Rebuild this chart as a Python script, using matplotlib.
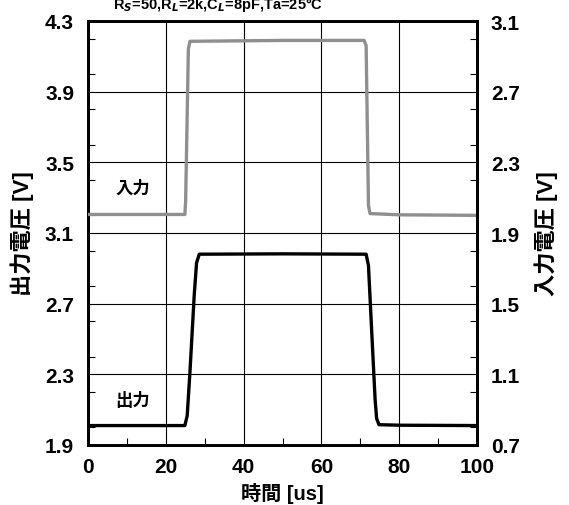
import matplotlib
matplotlib.use("Agg")
import matplotlib.pyplot as plt
from matplotlib.ticker import MultipleLocator

plt.rcParams['font.family'] = ['Liberation Sans', 'Noto Sans CJK JP', 'DejaVu Sans']
plt.rcParams['font.weight'] = 'bold'

# Output voltage (left axis) vs time [us]
t_out = [0, 24.9, 25.5, 26.2, 27.3, 27.9, 28.6, 50, 71.5, 72.1, 72.9, 73.8, 74.2, 74.8, 80, 100]
v_out = [2.01, 2.01, 2.066, 2.31, 2.745, 2.93, 2.98, 2.982, 2.98, 2.915, 2.557, 2.16, 2.05, 2.015, 2.012, 2.01]

# Input voltage (right axis) vs time [us]
t_in = [0, 24.9, 25.1, 25.8, 26.2, 50, 71.0, 71.5, 72.1, 72.5, 80, 99.3]
v_in = [2.005, 2.005, 2.08, 2.94, 2.985, 2.99, 2.99, 2.96, 2.055, 2.01, 2.003, 2.0]

x_ticks = [0, 20, 40, 60, 80, 100]
left_ticks = [1.9, 2.3, 2.7, 3.1, 3.5, 3.9, 4.3]
right_ticks = [0.7, 1.1, 1.5, 1.9, 2.3, 2.7, 3.1]

fig = plt.figure(figsize=(5.69, 5.06), dpi=100)
ax = fig.add_axes([88/569, 1 - 446/506, (477-88)/569, (446-22)/506])
ax2 = ax.twinx()

ax.plot(t_out, v_out, color='black', lw=2.4, solid_joinstyle='round', zorder=5)
ax2.plot(t_in, v_in, color='#8f8f8f', lw=2.4, solid_joinstyle='round', zorder=5)

ax.set_xlim(0, 100)
ax.set_ylim(1.9, 4.3)
ax2.set_ylim(0.7, 3.1)
ax.set_xticks(x_ticks)
ax.set_yticks(left_ticks)
ax2.set_yticks(right_ticks)
ax.set_xticklabels([str(v) for v in x_ticks])
ax.set_yticklabels([f"{v:.1f}" for v in left_ticks])
ax2.set_yticklabels([f"{v:.1f}" for v in right_ticks])
ax.xaxis.set_minor_locator(MultipleLocator(10))
ax.yaxis.set_minor_locator(MultipleLocator(0.2))
ax2.yaxis.set_minor_locator(MultipleLocator(0.2))

ax.grid(True, which='major', color='black', lw=0.8)
for a in (ax, ax2):
    a.tick_params(which='major', direction='in', length=0, labelsize=15, pad=10)
    a.tick_params(which='minor', direction='in', length=5, width=0.8)
    for s in a.spines.values():
        s.set_linewidth(2)
ax.tick_params(axis='x', which='major', pad=9)
ax.tick_params(axis='x', which='minor', top=False)
ax2.tick_params(axis='y', which='minor', right=True)
for lab in ax.get_xticklabels() + ax.get_yticklabels() + ax2.get_yticklabels():
    lab.set_fontweight('bold')

ax.set_xlabel('時間 [us]', fontsize=14.5, fontweight='bold', labelpad=4)
ax.set_ylabel('出力電圧 [V]', fontsize=16, fontweight='bold', labelpad=8)
ax2.set_ylabel('入力電圧 [V]', fontsize=16, fontweight='bold', labelpad=10, rotation=90)

ax.text(11.6, 3.36, '入力', fontsize=12.5, fontweight='bold', ha='center', va='center')
ax.text(11.6, 2.155, '出力', fontsize=12.5, fontweight='bold', ha='center', va='center')

fig.text(218/569, 1 - 9/506, 'R$_S$=50,R$_L$=2k,C$_L$=8pF,Ta=25°C', fontsize=10.5,
         ha='center', va='baseline', fontweight='bold')

fig.savefig('out.png', dpi=100)
